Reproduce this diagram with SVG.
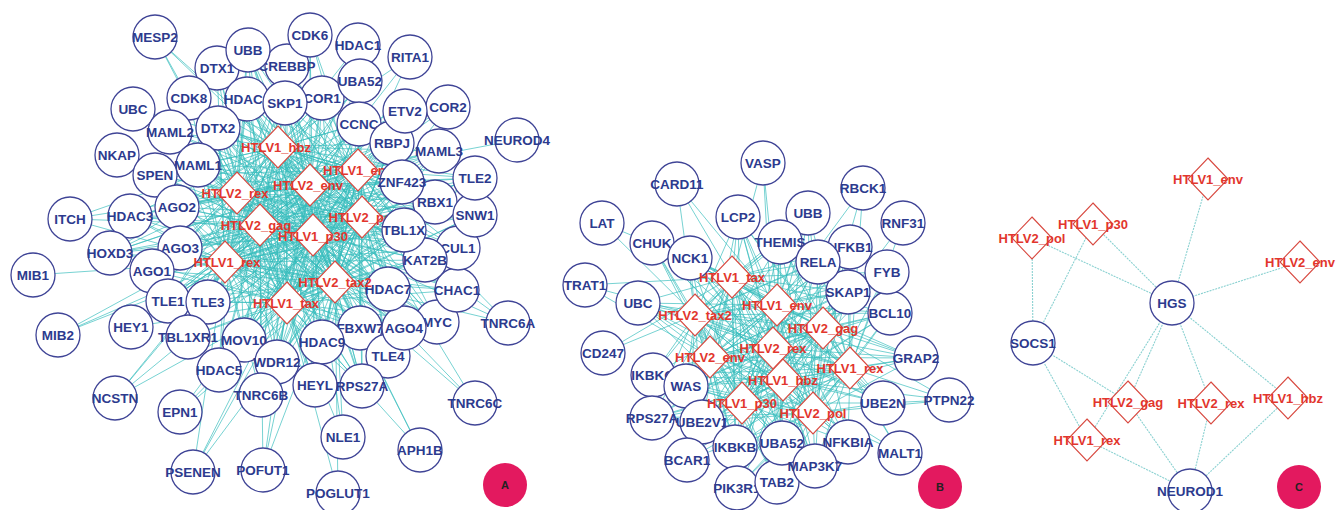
<svg xmlns="http://www.w3.org/2000/svg" xmlns:xlink="http://www.w3.org/1999/xlink" width="1336" height="510" viewBox="0 0 1336 510">
<style>
text{font-family:"Liberation Sans",Arial,sans-serif;font-weight:bold;font-size:13.5px;text-anchor:middle}
.p circle{fill:#fff;stroke:#3f4496;stroke-width:1.3}
.p text{fill:#2c3a8e}
.d use{fill:#fff;stroke:#d8483f;stroke-width:1.1}
.d text{fill:#e2362d;font-size:13px}
.e{fill:none;stroke:#36bdbd;stroke-width:0.75;stroke-opacity:0.9}
.ec{fill:none;stroke:#8ad1d1;stroke-width:1.1;stroke-dasharray:2 1}
.tag circle{fill:#e3195f}
.tag text{fill:#222;font-size:11px}
</style>
<defs>
<path id="dia" d="M0-21L20 0 0 21-20 0Z"/>
</defs>
<rect width="1336" height="510" fill="#fff"/>

<!-- interaction edges -->
<g id="connectors">
<path class="e" d="M278 147L217 68M278 147L248 50M278 147L287 66M278 147L247 99M278 147L285 103M278 147L322 98M278 147L360 81M278 147L359 124M278 147L189 98M278 147L218 128M278 147L170 132M278 147L198 165M278 147L155 175M278 147L177 207M278 147L130 216M278 147L180 248M278 147L152 271M278 147L110 253M278 147L168 301M278 147L208 302M278 147L188 337M278 147L244 340M278 147L219 370M278 147L277 362M278 147L261 395M278 147L322 342M278 147L315 385M278 147L362 386M278 147L360 328M278 147L388 356M278 147L404 328M278 147L388 289M278 147L437 322M278 147L425 260M278 147L457 290M278 147L458 248M278 147L404 230M278 147L435 202M278 147L402 182M278 147L392 143M278 147L405 111M278 147L439 151M278 147L475 215M278 147L475 178"/>
<path class="e" d="M358 170L217 68M358 170L248 50M358 170L287 66M358 170L247 99M358 170L285 103M358 170L322 98M358 170L360 81M358 170L359 124M358 170L189 98M358 170L218 128M358 170L170 132M358 170L198 165M358 170L155 175M358 170L177 207M358 170L130 216M358 170L180 248M358 170L152 271M358 170L110 253M358 170L168 301M358 170L208 302M358 170L188 337M358 170L244 340M358 170L219 370M358 170L277 362M358 170L261 395M358 170L322 342M358 170L315 385M358 170L362 386M358 170L360 328M358 170L388 356M358 170L404 328M358 170L388 289M358 170L437 322M358 170L425 260M358 170L457 290M358 170L458 248M358 170L404 230M358 170L435 202M358 170L402 182M358 170L392 143M358 170L405 111M358 170L439 151M358 170L475 215M358 170L475 178"/>
<path class="e" d="M310 185L217 68M310 185L248 50M310 185L287 66M310 185L247 99M310 185L285 103M310 185L322 98M310 185L360 81M310 185L359 124M310 185L189 98M310 185L218 128M310 185L170 132M310 185L198 165M310 185L155 175M310 185L177 207M310 185L130 216M310 185L180 248M310 185L152 271M310 185L110 253M310 185L168 301M310 185L208 302M310 185L188 337M310 185L244 340M310 185L219 370M310 185L277 362M310 185L261 395M310 185L322 342M310 185L315 385M310 185L362 386M310 185L360 328M310 185L388 356M310 185L404 328M310 185L388 289M310 185L437 322M310 185L425 260M310 185L457 290M310 185L458 248M310 185L404 230M310 185L435 202M310 185L402 182M310 185L392 143M310 185L405 111M310 185L439 151M310 185L475 215M310 185L475 178"/>
<path class="e" d="M237 193L217 68M237 193L248 50M237 193L287 66M237 193L247 99M237 193L285 103M237 193L322 98M237 193L360 81M237 193L359 124M237 193L189 98M237 193L218 128M237 193L170 132M237 193L198 165M237 193L155 175M237 193L177 207M237 193L130 216M237 193L180 248M237 193L152 271M237 193L110 253M237 193L168 301M237 193L208 302M237 193L188 337M237 193L244 340M237 193L219 370M237 193L277 362M237 193L261 395M237 193L322 342M237 193L315 385M237 193L362 386M237 193L360 328M237 193L388 356M237 193L404 328M237 193L388 289M237 193L437 322M237 193L425 260M237 193L457 290M237 193L458 248M237 193L404 230M237 193L435 202M237 193L402 182M237 193L392 143M237 193L405 111M237 193L439 151M237 193L475 215M237 193L475 178"/>
<path class="e" d="M362 217L217 68M362 217L248 50M362 217L287 66M362 217L247 99M362 217L285 103M362 217L322 98M362 217L360 81M362 217L359 124M362 217L189 98M362 217L218 128M362 217L170 132M362 217L198 165M362 217L155 175M362 217L177 207M362 217L130 216M362 217L180 248M362 217L152 271M362 217L110 253M362 217L168 301M362 217L208 302M362 217L188 337M362 217L244 340M362 217L219 370M362 217L277 362M362 217L261 395M362 217L322 342M362 217L315 385M362 217L362 386M362 217L360 328M362 217L388 356M362 217L404 328M362 217L388 289M362 217L437 322M362 217L425 260M362 217L457 290M362 217L458 248M362 217L404 230M362 217L435 202M362 217L402 182M362 217L392 143M362 217L405 111M362 217L439 151M362 217L475 215M362 217L475 178"/>
<path class="e" d="M260 225L217 68M260 225L248 50M260 225L287 66M260 225L247 99M260 225L285 103M260 225L322 98M260 225L360 81M260 225L359 124M260 225L189 98M260 225L218 128M260 225L170 132M260 225L198 165M260 225L155 175M260 225L177 207M260 225L130 216M260 225L180 248M260 225L152 271M260 225L110 253M260 225L168 301M260 225L208 302M260 225L188 337M260 225L244 340M260 225L219 370M260 225L277 362M260 225L261 395M260 225L322 342M260 225L315 385M260 225L362 386M260 225L360 328M260 225L388 356M260 225L404 328M260 225L388 289M260 225L437 322M260 225L425 260M260 225L457 290M260 225L458 248M260 225L404 230M260 225L435 202M260 225L402 182M260 225L392 143M260 225L405 111M260 225L439 151M260 225L475 215M260 225L475 178"/>
<path class="e" d="M313 235L217 68M313 235L248 50M313 235L287 66M313 235L247 99M313 235L285 103M313 235L322 98M313 235L360 81M313 235L359 124M313 235L189 98M313 235L218 128M313 235L170 132M313 235L198 165M313 235L155 175M313 235L177 207M313 235L130 216M313 235L180 248M313 235L152 271M313 235L110 253M313 235L168 301M313 235L208 302M313 235L188 337M313 235L244 340M313 235L219 370M313 235L277 362M313 235L261 395M313 235L322 342M313 235L315 385M313 235L362 386M313 235L360 328M313 235L388 356M313 235L404 328M313 235L388 289M313 235L437 322M313 235L425 260M313 235L457 290M313 235L458 248M313 235L404 230M313 235L435 202M313 235L402 182M313 235L392 143M313 235L405 111M313 235L439 151M313 235L475 215M313 235L475 178"/>
<path class="e" d="M225 262L217 68M225 262L248 50M225 262L287 66M225 262L247 99M225 262L285 103M225 262L322 98M225 262L360 81M225 262L359 124M225 262L189 98M225 262L218 128M225 262L170 132M225 262L198 165M225 262L155 175M225 262L177 207M225 262L130 216M225 262L180 248M225 262L152 271M225 262L110 253M225 262L168 301M225 262L208 302M225 262L188 337M225 262L244 340M225 262L219 370M225 262L277 362M225 262L261 395M225 262L322 342M225 262L315 385M225 262L362 386M225 262L360 328M225 262L388 356M225 262L404 328M225 262L388 289M225 262L437 322M225 262L425 260M225 262L457 290M225 262L458 248M225 262L404 230M225 262L435 202M225 262L402 182M225 262L392 143M225 262L405 111M225 262L439 151M225 262L475 215M225 262L475 178"/>
<path class="e" d="M335 282L217 68M335 282L248 50M335 282L287 66M335 282L247 99M335 282L285 103M335 282L322 98M335 282L360 81M335 282L359 124M335 282L189 98M335 282L218 128M335 282L170 132M335 282L198 165M335 282L155 175M335 282L177 207M335 282L130 216M335 282L180 248M335 282L152 271M335 282L110 253M335 282L168 301M335 282L208 302M335 282L188 337M335 282L244 340M335 282L219 370M335 282L277 362M335 282L261 395M335 282L322 342M335 282L315 385M335 282L362 386M335 282L360 328M335 282L388 356M335 282L404 328M335 282L388 289M335 282L437 322M335 282L425 260M335 282L457 290M335 282L458 248M335 282L404 230M335 282L435 202M335 282L402 182M335 282L392 143M335 282L405 111M335 282L439 151M335 282L475 215M335 282L475 178"/>
<path class="e" d="M287 303L217 68M287 303L248 50M287 303L287 66M287 303L247 99M287 303L285 103M287 303L322 98M287 303L360 81M287 303L359 124M287 303L189 98M287 303L218 128M287 303L170 132M287 303L198 165M287 303L155 175M287 303L177 207M287 303L130 216M287 303L180 248M287 303L152 271M287 303L110 253M287 303L168 301M287 303L208 302M287 303L188 337M287 303L244 340M287 303L219 370M287 303L277 362M287 303L261 395M287 303L322 342M287 303L315 385M287 303L362 386M287 303L360 328M287 303L388 356M287 303L404 328M287 303L388 289M287 303L437 322M287 303L425 260M287 303L457 290M287 303L458 248M287 303L404 230M287 303L435 202M287 303L402 182M287 303L392 143M287 303L405 111M287 303L439 151M287 303L475 215M287 303L475 178"/>
<path class="e" d="M278 147L358 170M278 147L310 185M278 147L237 193M278 147L362 217M278 147L260 225M278 147L313 235M278 147L225 262M278 147L335 282M278 147L287 303M358 170L310 185M358 170L237 193M358 170L362 217M358 170L260 225M358 170L313 235M358 170L225 262M358 170L335 282M358 170L287 303M310 185L237 193M310 185L362 217M310 185L260 225M310 185L313 235M310 185L225 262M310 185L335 282M310 185L287 303M237 193L362 217M237 193L260 225M237 193L313 235M237 193L225 262M237 193L335 282M237 193L287 303M362 217L260 225M362 217L313 235M362 217L225 262M362 217L335 282M362 217L287 303M260 225L313 235M260 225L225 262M260 225L335 282M260 225L287 303M313 235L225 262M313 235L335 282M313 235L287 303M225 262L335 282M225 262L287 303M335 282L287 303"/>
<path class="e" d="M155 37L278 147M155 37L237 193M155 37L310 185M155 37L260 225M70 219L237 193M70 219L260 225M70 219L225 262M70 219L278 147M33 275L225 262M58 335L225 262M58 335L313 235M58 335L260 225M131 327L225 262M131 327L287 303M131 327L260 225M115 398L225 262M115 398L287 303M115 398L260 225M115 398L313 235M180 412L287 303M180 412L313 235M180 412L335 282M193 472L287 303M193 472L335 282M193 472L313 235M193 472L225 262M263 470L287 303M263 470L313 235M263 470L260 225M263 470L335 282M343 437L287 303M343 437L335 282M343 437L313 235M338 493L287 303M338 493L335 282M420 450L335 282M420 450L313 235M420 450L287 303M475 403L335 282M475 403L362 217M475 403L313 235M508 323L335 282M508 323L362 217M508 323L313 235M508 323L358 170M517 140L358 170M410 57L278 147M410 57L310 185M410 57L358 170M358 45L278 147M358 45L310 185M358 45L358 170M310 35L310 185M310 35L358 170M310 35L362 217M310 35L313 235M133 109L237 193M133 109L278 147M117 155L237 193M117 155L260 225M448 107L358 170M448 107L362 217M448 107L310 185"/>

<path class="e" d="M732 277L738 217M732 277L808 213M732 277L780 242M732 277L850 247M732 277L818 262M732 277L887 272M732 277L848 292M732 277L890 313M732 277L916 358M732 277L883 403M732 277L848 442M732 277L815 466M732 277L782 443M732 277L777 482M732 277L735 447M732 277L737 488M732 277L687 460M732 277L702 422M732 277L652 418M732 277L686 386M732 277L653 375M732 277L638 303M732 277L690 258M732 277L652 243"/>
<path class="e" d="M695 315L738 217M695 315L808 213M695 315L780 242M695 315L850 247M695 315L818 262M695 315L887 272M695 315L848 292M695 315L890 313M695 315L916 358M695 315L883 403M695 315L848 442M695 315L815 466M695 315L782 443M695 315L777 482M695 315L735 447M695 315L737 488M695 315L687 460M695 315L702 422M695 315L652 418M695 315L686 386M695 315L653 375M695 315L638 303M695 315L690 258M695 315L652 243"/>
<path class="e" d="M777 305L738 217M777 305L808 213M777 305L780 242M777 305L850 247M777 305L818 262M777 305L887 272M777 305L848 292M777 305L890 313M777 305L916 358M777 305L883 403M777 305L848 442M777 305L815 466M777 305L782 443M777 305L777 482M777 305L735 447M777 305L737 488M777 305L687 460M777 305L702 422M777 305L652 418M777 305L686 386M777 305L653 375M777 305L638 303M777 305L690 258M777 305L652 243"/>
<path class="e" d="M823 328L738 217M823 328L808 213M823 328L780 242M823 328L850 247M823 328L818 262M823 328L887 272M823 328L848 292M823 328L890 313M823 328L916 358M823 328L883 403M823 328L848 442M823 328L815 466M823 328L782 443M823 328L777 482M823 328L735 447M823 328L737 488M823 328L687 460M823 328L702 422M823 328L652 418M823 328L686 386M823 328L653 375M823 328L638 303M823 328L690 258M823 328L652 243"/>
<path class="e" d="M710 357L738 217M710 357L808 213M710 357L780 242M710 357L850 247M710 357L818 262M710 357L887 272M710 357L848 292M710 357L890 313M710 357L916 358M710 357L883 403M710 357L848 442M710 357L815 466M710 357L782 443M710 357L777 482M710 357L735 447M710 357L737 488M710 357L687 460M710 357L702 422M710 357L652 418M710 357L686 386M710 357L653 375M710 357L638 303M710 357L690 258M710 357L652 243"/>
<path class="e" d="M773 348L738 217M773 348L808 213M773 348L780 242M773 348L850 247M773 348L818 262M773 348L887 272M773 348L848 292M773 348L890 313M773 348L916 358M773 348L883 403M773 348L848 442M773 348L815 466M773 348L782 443M773 348L777 482M773 348L735 447M773 348L737 488M773 348L687 460M773 348L702 422M773 348L652 418M773 348L686 386M773 348L653 375M773 348L638 303M773 348L690 258M773 348L652 243"/>
<path class="e" d="M850 368L738 217M850 368L808 213M850 368L780 242M850 368L850 247M850 368L818 262M850 368L887 272M850 368L848 292M850 368L890 313M850 368L916 358M850 368L883 403M850 368L848 442M850 368L815 466M850 368L782 443M850 368L777 482M850 368L735 447M850 368L737 488M850 368L687 460M850 368L702 422M850 368L652 418M850 368L686 386M850 368L653 375M850 368L638 303M850 368L690 258M850 368L652 243"/>
<path class="e" d="M783 380L738 217M783 380L808 213M783 380L780 242M783 380L850 247M783 380L818 262M783 380L887 272M783 380L848 292M783 380L890 313M783 380L916 358M783 380L883 403M783 380L848 442M783 380L815 466M783 380L782 443M783 380L777 482M783 380L735 447M783 380L737 488M783 380L687 460M783 380L702 422M783 380L652 418M783 380L686 386M783 380L653 375M783 380L638 303M783 380L690 258M783 380L652 243"/>
<path class="e" d="M742 403L738 217M742 403L808 213M742 403L780 242M742 403L850 247M742 403L818 262M742 403L887 272M742 403L848 292M742 403L890 313M742 403L916 358M742 403L883 403M742 403L848 442M742 403L815 466M742 403L782 443M742 403L777 482M742 403L735 447M742 403L737 488M742 403L687 460M742 403L702 422M742 403L652 418M742 403L686 386M742 403L653 375M742 403L638 303M742 403L690 258M742 403L652 243"/>
<path class="e" d="M813 413L738 217M813 413L808 213M813 413L780 242M813 413L850 247M813 413L818 262M813 413L887 272M813 413L848 292M813 413L890 313M813 413L916 358M813 413L883 403M813 413L848 442M813 413L815 466M813 413L782 443M813 413L777 482M813 413L735 447M813 413L737 488M813 413L687 460M813 413L702 422M813 413L652 418M813 413L686 386M813 413L653 375M813 413L638 303M813 413L690 258M813 413L652 243"/>
<path class="e" d="M732 277L695 315M732 277L777 305M732 277L823 328M732 277L710 357M732 277L773 348M732 277L850 368M732 277L783 380M732 277L742 403M732 277L813 413M695 315L777 305M695 315L823 328M695 315L710 357M695 315L773 348M695 315L850 368M695 315L783 380M695 315L742 403M695 315L813 413M777 305L823 328M777 305L710 357M777 305L773 348M777 305L850 368M777 305L783 380M777 305L742 403M777 305L813 413M823 328L710 357M823 328L773 348M823 328L850 368M823 328L783 380M823 328L742 403M823 328L813 413M710 357L773 348M710 357L850 368M710 357L783 380M710 357L742 403M710 357L813 413M773 348L850 368M773 348L783 380M773 348L742 403M773 348L813 413M850 368L783 380M850 368L742 403M850 368L813 413M783 380L742 403M783 380L813 413M742 403L813 413"/>
<path class="e" d="M763 163L732 277M763 163L777 305M763 163L773 348M677 184L732 277M677 184L695 315M677 184L777 305M863 188L777 305M863 188L823 328M863 188L850 368M903 223L823 328M903 223L850 368M602 223L695 315M602 223L732 277M585 285L695 315M585 285L710 357M585 285L732 277M603 353L695 315M603 353L732 277M949 400L850 368M949 400L813 413M949 400L823 328M949 400L783 380M949 400L883 403M900 453L850 368M900 453L813 413M900 453L783 380M900 453L823 328"/>

<path class="ec" d="M1032 238L1033 343M1032 238L1172 303M1093 224L1033 343M1093 224L1172 303M1208 179L1172 303M1300 262L1172 303M1172 303L1087 440M1172 303L1128 402M1172 303L1211 403M1172 303L1288 398M1033 343L1128 402M1033 343L1087 440M1087 440L1190 491M1128 402L1190 491M1211 403L1190 491M1288 398L1190 491"/>
</g>

<!-- panel A: proteins -->
<g id="a-MESP2" class="p"><circle cx="155" cy="37" r="22"/><text x="155" y="42">MESP2</text></g>
<g id="a-ITCH" class="p"><circle cx="70" cy="219" r="22"/><text x="70" y="224">ITCH</text></g>
<g id="a-MIB1" class="p"><circle cx="33" cy="275" r="22"/><text x="33" y="280">MIB1</text></g>
<g id="a-MIB2" class="p"><circle cx="58" cy="335" r="22"/><text x="58" y="340">MIB2</text></g>
<g id="a-NCSTN" class="p"><circle cx="115" cy="398" r="22"/><text x="115" y="403">NCSTN</text></g>
<g id="a-EPN1" class="p"><circle cx="180" cy="412" r="22"/><text x="180" y="417">EPN1</text></g>
<g id="a-PSENEN" class="p"><circle cx="193" cy="472" r="22"/><text x="193" y="477">PSENEN</text></g>
<g id="a-POFUT1" class="p"><circle cx="263" cy="470" r="22"/><text x="263" y="475">POFUT1</text></g>
<g id="a-POGLUT1" class="p"><circle cx="338" cy="493" r="22"/><text x="338" y="498">POGLUT1</text></g>
<g id="a-NLE1" class="p"><circle cx="343" cy="437" r="22"/><text x="343" y="442">NLE1</text></g>
<g id="a-APH1B" class="p"><circle cx="420" cy="450" r="22"/><text x="420" y="455">APH1B</text></g>
<g id="a-TNRC6C" class="p"><circle cx="475" cy="403" r="22"/><text x="475" y="408">TNRC6C</text></g>
<g id="a-TNRC6A" class="p"><circle cx="508" cy="323" r="22"/><text x="508" y="328">TNRC6A</text></g>
<g id="a-NEUROD4" class="p"><circle cx="517" cy="140" r="22"/><text x="517" y="145">NEUROD4</text></g>
<g id="a-RITA1" class="p"><circle cx="410" cy="57" r="22"/><text x="410" y="62">RITA1</text></g>
<g id="a-HDAC1" class="p"><circle cx="358" cy="45" r="22"/><text x="358" y="50">HDAC1</text></g>
<g id="a-HEY1" class="p"><circle cx="131" cy="327" r="22"/><text x="131" y="332">HEY1</text></g>
<g id="a-UBC" class="p"><circle cx="133" cy="109" r="22"/><text x="133" y="114">UBC</text></g>
<g id="a-NKAP" class="p"><circle cx="117" cy="155" r="22"/><text x="117" y="160">NKAP</text></g>
<g id="a-DTX1" class="p"><circle cx="217" cy="68" r="22"/><text x="217" y="73">DTX1</text></g>
<g id="a-CREBBP" class="p"><circle cx="287" cy="66" r="22"/><text x="287" y="71">CREBBP</text></g>
<g id="a-UBB" class="p"><circle cx="248" cy="50" r="22"/><text x="248" y="55">UBB</text></g>
<g id="a-CDK6" class="p"><circle cx="310" cy="35" r="22"/><text x="310" y="40">CDK6</text></g>
<g id="a-HDAC2" class="p"><circle cx="247" cy="99" r="22"/><text x="247" y="104">HDAC2</text></g>
<g id="a-CDK8" class="p"><circle cx="189" cy="98" r="22"/><text x="189" y="103">CDK8</text></g>
<g id="a-COR1" class="p"><circle cx="322" cy="98" r="22"/><text x="322" y="103">COR1</text></g>
<g id="a-SKP1" class="p"><circle cx="285" cy="103" r="22"/><text x="285" y="108">SKP1</text></g>
<g id="a-UBA52" class="p"><circle cx="360" cy="81" r="22"/><text x="360" y="86">UBA52</text></g>
<g id="a-CCNC" class="p"><circle cx="359" cy="124" r="22"/><text x="359" y="129">CCNC</text></g>
<g id="a-RBPJ" class="p"><circle cx="392" cy="143" r="22"/><text x="392" y="148">RBPJ</text></g>
<g id="a-COR2" class="p"><circle cx="448" cy="107" r="22"/><text x="448" y="112">COR2</text></g>
<g id="a-ETV2" class="p"><circle cx="405" cy="111" r="22"/><text x="405" y="116">ETV2</text></g>
<g id="a-MAML3" class="p"><circle cx="439" cy="151" r="22"/><text x="439" y="156">MAML3</text></g>
<g id="a-MAML2" class="p"><circle cx="170" cy="132" r="22"/><text x="170" y="137">MAML2</text></g>
<g id="a-DTX2" class="p"><circle cx="218" cy="128" r="22"/><text x="218" y="133">DTX2</text></g>
<g id="a-MAML1" class="p"><circle cx="198" cy="165" r="22"/><text x="198" y="170">MAML1</text></g>
<g id="a-SPEN" class="p"><circle cx="155" cy="175" r="22"/><text x="155" y="180">SPEN</text></g>
<g id="a-HDAC3" class="p"><circle cx="130" cy="216" r="22"/><text x="130" y="221">HDAC3</text></g>
<g id="a-AGO2" class="p"><circle cx="177" cy="207" r="22"/><text x="177" y="212">AGO2</text></g>
<g id="a-AGO3" class="p"><circle cx="180" cy="248" r="22"/><text x="180" y="253">AGO3</text></g>
<g id="a-HOXD3" class="p"><circle cx="110" cy="253" r="22"/><text x="110" y="258">HOXD3</text></g>
<g id="a-AGO1" class="p"><circle cx="152" cy="271" r="22"/><text x="152" y="276">AGO1</text></g>
<g id="a-TLE1" class="p"><circle cx="168" cy="301" r="22"/><text x="168" y="306">TLE1</text></g>
<g id="a-TLE3" class="p"><circle cx="208" cy="302" r="22"/><text x="208" y="307">TLE3</text></g>
<g id="a-TBL1XR1" class="p"><circle cx="188" cy="337" r="22"/><text x="188" y="342">TBL1XR1</text></g>
<g id="a-MOV10" class="p"><circle cx="244" cy="340" r="22"/><text x="244" y="345">MOV10</text></g>
<g id="a-WDR12" class="p"><circle cx="277" cy="362" r="22"/><text x="277" y="367">WDR12</text></g>
<g id="a-HDAC5" class="p"><circle cx="219" cy="370" r="22"/><text x="219" y="375">HDAC5</text></g>
<g id="a-TNRC6B" class="p"><circle cx="261" cy="395" r="22"/><text x="261" y="400">TNRC6B</text></g>
<g id="a-FBXW7" class="p"><circle cx="360" cy="328" r="22"/><text x="360" y="333">FBXW7</text></g>
<g id="a-HDAC9" class="p"><circle cx="322" cy="342" r="22"/><text x="322" y="347">HDAC9</text></g>
<g id="a-HEYL" class="p"><circle cx="315" cy="385" r="22"/><text x="315" y="390">HEYL</text></g>
<g id="a-TLE4" class="p"><circle cx="388" cy="356" r="22"/><text x="388" y="361">TLE4</text></g>
<g id="a-RPS27A" class="p"><circle cx="362" cy="386" r="22"/><text x="362" y="391">RPS27A</text></g>
<g id="a-MYC" class="p"><circle cx="437" cy="322" r="22"/><text x="437" y="327">MYC</text></g>
<g id="a-AGO4" class="p"><circle cx="404" cy="328" r="22"/><text x="404" y="333">AGO4</text></g>
<g id="a-HDAC7" class="p"><circle cx="388" cy="289" r="22"/><text x="388" y="294">HDAC7</text></g>
<g id="a-CHAC1" class="p"><circle cx="457" cy="290" r="22"/><text x="457" y="295">CHAC1</text></g>
<g id="a-CUL1" class="p"><circle cx="458" cy="248" r="22"/><text x="458" y="253">CUL1</text></g>
<g id="a-KAT2B" class="p"><circle cx="425" cy="260" r="22"/><text x="425" y="265">KAT2B</text></g>
<g id="a-RBX1" class="p"><circle cx="435" cy="202" r="22"/><text x="435" y="207">RBX1</text></g>
<g id="a-SNW1" class="p"><circle cx="475" cy="215" r="22"/><text x="475" y="220">SNW1</text></g>
<g id="a-TLE2" class="p"><circle cx="475" cy="178" r="22"/><text x="475" y="183">TLE2</text></g>

<!-- panel A: viral proteins -->
<g id="a-HTLV1_hbz" class="d"><use xlink:href="#dia" x="278" y="147"/><text x="276" y="152">HTLV1_hbz</text></g>
<g id="a-HTLV1_env" class="d"><use xlink:href="#dia" x="358" y="170"/><text x="358" y="175">HTLV1_env</text></g>
<g id="a-HTLV2_env" class="d"><use xlink:href="#dia" x="310" y="185"/><text x="308" y="190">HTLV2_env</text></g>
<g id="a-HTLV2_rex" class="d"><use xlink:href="#dia" x="237" y="193"/><text x="235" y="198">HTLV2_rex</text></g>
<g id="a-HTLV2_pol" class="d"><use xlink:href="#dia" x="362" y="217"/><text x="362" y="222">HTLV2_pol</text></g>
<g id="a-HTLV2_gag" class="d"><use xlink:href="#dia" x="260" y="225"/><text x="256" y="230">HTLV2_gag</text></g>
<g id="a-HTLV1_p30" class="d"><use xlink:href="#dia" x="313" y="235"/><text x="313" y="241">HTLV1_p30</text></g>
<g id="a-HTLV1_rex" class="d"><use xlink:href="#dia" x="225" y="262"/><text x="227" y="267">HTLV1_rex</text></g>
<g id="a-HTLV2_tax2" class="d"><use xlink:href="#dia" x="335" y="282"/><text x="335" y="287">HTLV2_tax2</text></g>
<g id="a-HTLV1_tax" class="d"><use xlink:href="#dia" x="287" y="303"/><text x="286" y="308">HTLV1_tax</text></g>

<g id="a-ZNF423" class="p"><circle cx="402" cy="182" r="22"/><text x="402" y="187">ZNF423</text></g>
<g id="a-TBL1X" class="p"><circle cx="404" cy="230" r="22"/><text x="404" y="235">TBL1X</text></g>

<g id="tag-A" class="tag"><circle cx="505" cy="485" r="22"/><text x="505" y="489">A</text></g>

<!-- panel B: proteins -->
<g id="b-VASP" class="p"><circle cx="763" cy="163" r="22"/><text x="763" y="168">VASP</text></g>
<g id="b-CARD11" class="p"><circle cx="677" cy="184" r="22"/><text x="677" y="189">CARD11</text></g>
<g id="b-RBCK1" class="p"><circle cx="863" cy="188" r="22"/><text x="863" y="193">RBCK1</text></g>
<g id="b-LAT" class="p"><circle cx="602" cy="223" r="22"/><text x="602" y="228">LAT</text></g>
<g id="b-RNF31" class="p"><circle cx="903" cy="223" r="22"/><text x="903" y="228">RNF31</text></g>
<g id="b-TRAT1" class="p"><circle cx="585" cy="285" r="22"/><text x="585" y="290">TRAT1</text></g>
<g id="b-CD247" class="p"><circle cx="603" cy="353" r="22"/><text x="603" y="358">CD247</text></g>
<g id="b-GRAP2" class="p"><circle cx="916" cy="358" r="22"/><text x="916" y="363">GRAP2</text></g>
<g id="b-PTPN22" class="p"><circle cx="949" cy="400" r="22"/><text x="949" y="405">PTPN22</text></g>
<g id="b-MALT1" class="p"><circle cx="900" cy="453" r="22"/><text x="900" y="458">MALT1</text></g>
<g id="b-LCP2" class="p"><circle cx="738" cy="217" r="22"/><text x="738" y="222">LCP2</text></g>
<g id="b-UBB" class="p"><circle cx="808" cy="213" r="22"/><text x="808" y="218">UBB</text></g>
<g id="b-THEMIS" class="p"><circle cx="780" cy="242" r="22"/><text x="780" y="247">THEMIS</text></g>
<g id="b-NFKB1" class="p"><circle cx="850" cy="247" r="22"/><text x="850" y="252">NFKB1</text></g>
<g id="b-SKAP1" class="p"><circle cx="848" cy="292" r="22"/><text x="848" y="297">SKAP1</text></g>
<g id="b-RELA" class="p"><circle cx="818" cy="262" r="22"/><text x="818" y="267">RELA</text></g>
<g id="b-BCL10" class="p"><circle cx="890" cy="313" r="22"/><text x="890" y="318">BCL10</text></g>
<g id="b-FYB" class="p"><circle cx="887" cy="272" r="22"/><text x="887" y="277">FYB</text></g>
<g id="b-CHUK" class="p"><circle cx="652" cy="243" r="22"/><text x="652" y="248">CHUK</text></g>
<g id="b-NCK1" class="p"><circle cx="690" cy="258" r="22"/><text x="690" y="263">NCK1</text></g>
<g id="b-UBC" class="p"><circle cx="638" cy="303" r="22"/><text x="638" y="308">UBC</text></g>
<g id="b-IKBKG" class="p"><circle cx="653" cy="375" r="22"/><text x="653" y="380">IKBKG</text></g>
<g id="b-WAS" class="p"><circle cx="686" cy="386" r="22"/><text x="686" y="391">WAS</text></g>
<g id="b-RPS27A" class="p"><circle cx="652" cy="418" r="22"/><text x="652" y="423">RPS27A</text></g>
<g id="b-UBE2V1" class="p"><circle cx="702" cy="422" r="22"/><text x="702" y="427">UBE2V1</text></g>
<g id="b-IKBKB" class="p"><circle cx="735" cy="447" r="22"/><text x="735" y="452">IKBKB</text></g>
<g id="b-BCAR1" class="p"><circle cx="687" cy="460" r="22"/><text x="687" y="465">BCAR1</text></g>
<g id="b-PIK3R1" class="p"><circle cx="737" cy="488" r="22"/><text x="737" y="493">PIK3R1</text></g>
<g id="b-TAB2" class="p"><circle cx="777" cy="482" r="22"/><text x="777" y="487">TAB2</text></g>
<g id="b-UBA52" class="p"><circle cx="782" cy="443" r="22"/><text x="782" y="448">UBA52</text></g>
<g id="b-NFKBIA" class="p"><circle cx="848" cy="442" r="22"/><text x="848" y="447">NFKBIA</text></g>
<g id="b-MAP3K7" class="p"><circle cx="815" cy="466" r="22"/><text x="815" y="471">MAP3K7</text></g>
<g id="b-UBE2N" class="p"><circle cx="883" cy="403" r="22"/><text x="883" y="408">UBE2N</text></g>

<!-- panel B: viral proteins -->
<g id="b-HTLV1_tax" class="d"><use xlink:href="#dia" x="732" y="277"/><text x="732" y="282">HTLV1_tax</text></g>
<g id="b-HTLV2_tax2" class="d"><use xlink:href="#dia" x="695" y="315"/><text x="695" y="320">HTLV2_tax2</text></g>
<g id="b-HTLV1_env" class="d"><use xlink:href="#dia" x="777" y="305"/><text x="777" y="310">HTLV1_env</text></g>
<g id="b-HTLV2_gag" class="d"><use xlink:href="#dia" x="823" y="328"/><text x="823" y="333">HTLV2_gag</text></g>
<g id="b-HTLV2_env" class="d"><use xlink:href="#dia" x="710" y="357"/><text x="710" y="362">HTLV2_env</text></g>
<g id="b-HTLV2_rex" class="d"><use xlink:href="#dia" x="773" y="348"/><text x="773" y="353">HTLV2_rex</text></g>
<g id="b-HTLV1_rex" class="d"><use xlink:href="#dia" x="850" y="368"/><text x="850" y="373">HTLV1_rex</text></g>
<g id="b-HTLV1_hbz" class="d"><use xlink:href="#dia" x="783" y="380"/><text x="783" y="385">HTLV1_hbz</text></g>
<g id="b-HTLV1_p30" class="d"><use xlink:href="#dia" x="742" y="403"/><text x="742" y="408">HTLV1_p30</text></g>
<g id="b-HTLV2_pol" class="d"><use xlink:href="#dia" x="813" y="413"/><text x="813" y="418">HTLV2_pol</text></g>

<g id="tag-B" class="tag"><circle cx="940" cy="487" r="22"/><text x="940" y="491">B</text></g>

<!-- panel C -->
<g id="c-HGS" class="p"><circle cx="1172" cy="303" r="22"/><text x="1172" y="308">HGS</text></g>
<g id="c-SOCS1" class="p"><circle cx="1033" cy="343" r="22"/><text x="1033" y="348">SOCS1</text></g>
<g id="c-NEUROD1" class="p"><circle cx="1190" cy="491" r="22"/><text x="1190" y="496">NEUROD1</text></g>
<g id="c-HTLV1_env" class="d"><use xlink:href="#dia" x="1208" y="179"/><text x="1208" y="184">HTLV1_env</text></g>
<g id="c-HTLV1_p30" class="d"><use xlink:href="#dia" x="1093" y="224"/><text x="1093" y="229">HTLV1_p30</text></g>
<g id="c-HTLV2_pol" class="d"><use xlink:href="#dia" x="1032" y="238"/><text x="1032" y="243">HTLV2_pol</text></g>
<g id="c-HTLV2_env" class="d"><use xlink:href="#dia" x="1300" y="262"/><text x="1300" y="267">HTLV2_env</text></g>
<g id="c-HTLV2_gag" class="d"><use xlink:href="#dia" x="1128" y="402"/><text x="1128" y="407">HTLV2_gag</text></g>
<g id="c-HTLV2_rex" class="d"><use xlink:href="#dia" x="1211" y="403"/><text x="1211" y="408">HTLV2_rex</text></g>
<g id="c-HTLV1_hbz" class="d"><use xlink:href="#dia" x="1288" y="398"/><text x="1288" y="403">HTLV1_hbz</text></g>
<g id="c-HTLV1_rex" class="d"><use xlink:href="#dia" x="1087" y="440"/><text x="1087" y="445">HTLV1_rex</text></g>

<g id="tag-C" class="tag"><circle cx="1299" cy="487" r="22"/><text x="1299" y="491">C</text></g>
</svg>
